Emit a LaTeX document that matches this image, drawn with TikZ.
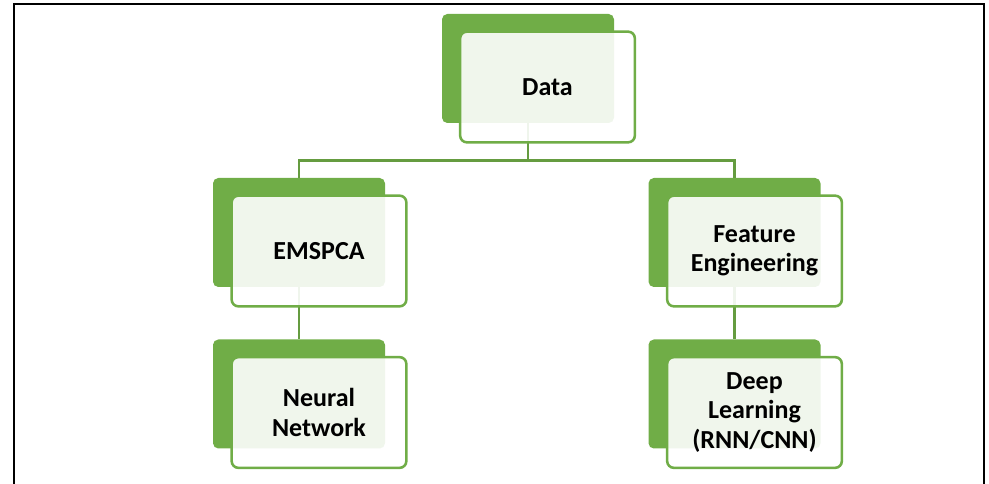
\documentclass[tikz,border=0pt]{standalone}
\usepackage{fontspec}
\setmainfont{Carlito}
\usepackage{tikz}
\definecolor{leafgreen}{RGB}{112,173,71}
\tikzset{
  backbox/.style={fill=leafgreen, rounded corners=4pt, minimum width=129pt, minimum height=81.75pt, inner sep=0pt},
  frontbox/.style={draw=leafgreen, line width=1.9pt, fill=white, fill opacity=0.9, text opacity=1, rounded corners=5pt, minimum width=131pt, minimum height=83pt, align=center, font=\fontsize{19.5pt}{22pt}\selectfont\bfseries},
  link/.style={draw=leafgreen!90!black, line width=1.8pt}
}

\begin{document}
\begin{tikzpicture}[x=0.75pt,y=0.75pt,yscale=-1,xscale=1]
\useasboundingbox (0,0) rectangle (989,484);

%Frame
\draw [line width=1.5pt] (14.3,490) -- (14.3,4.3) -- (983.5,4.3) -- (983.5,490) ;

%Back boxes
\node [backbox] (dataB) at (528,68.5) {};
\node [backbox] (emsB) at (299,232.5) {};
\node [backbox] (featB) at (734.5,232.5) {};
\node [backbox] (nnB) at (299,394) {};
\node [backbox] (dlB) at (734.5,394) {};

%Connectors
\coordinate (bar) at (528,160.5);
\draw [link] (dataB.south) -- (bar) ;
\draw [link] (emsB.north) |- (bar) -| (featB.north) ;
\draw [link] (emsB.south) -- (nnB.north) ;
\draw [link] (featB.south) -- (dlB.north) ;

%Front boxes
\node [frontbox] (data) at (547.5,87) {Data};
\node [frontbox] (ems) at (319,251) {EMSPCA};
\node [frontbox] (feat) at (754.5,251) {Feature\\Engineering};
\node [frontbox] (nn) at (319,412.5) {Neural\\Network};
\node [frontbox] (dl) at (754.5,412.5) {Deep\\Learning\\(RNN/CNN)};

\end{tikzpicture}
\end{document}
